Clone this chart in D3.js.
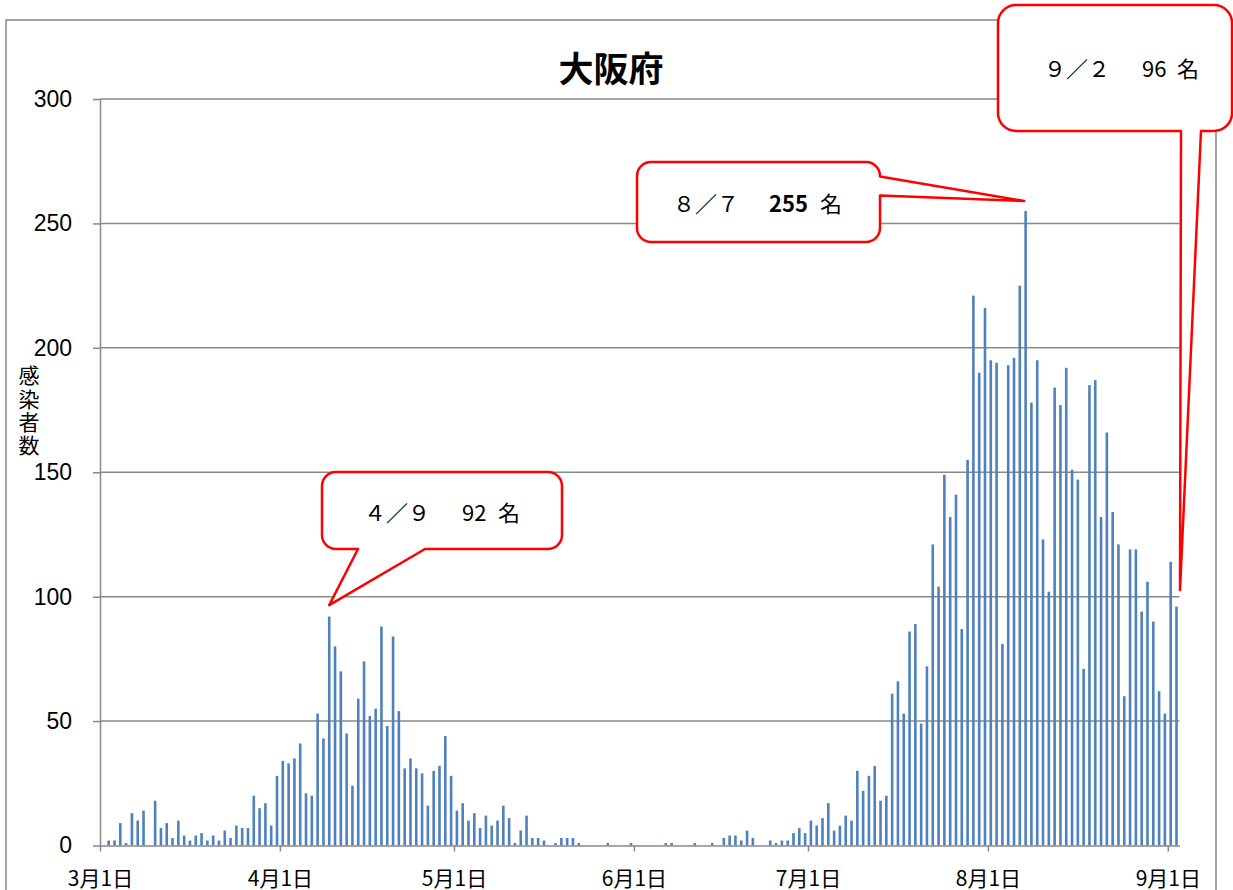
<!DOCTYPE html>
<html>
<head>
<meta charset="utf-8">
<title>大阪府</title>
<script src="https://cdn.jsdelivr.net/npm/d3@7/dist/d3.min.js"></script>
<style>
    body { margin: 0; background: #fff; }
    svg { display: block; }
</style>
</head>
<body>
<div id="chart"></div>
<script>
/*jslint browser: true*/

// daily new cases, Osaka, from 2020-03-01
var startDate = '2020-03-01';
var marCases = [0, 2, 2, 9, 1, 13, 10, 14, 0, 18, 7, 9, 3, 10, 4, 2, 4, 5, 2, 4, 2, 6, 3, 8, 7, 7, 20, 15, 17, 8, 28];
var aprCases = [34, 33, 35, 41, 21, 20, 53, 43, 92, 80, 70, 45, 24, 59, 74, 52, 55, 88, 48, 84, 54, 31, 35, 31, 29, 16, 30, 32, 44, 28];
var mayCases = [14, 17, 10, 13, 7, 12, 8, 10, 16, 11, 1, 6, 12, 3, 3, 2, 0, 1, 3, 3, 3, 1, 0, 0, 0, 0, 1, 0, 0, 0, 1];
var junCases = [0, 0, 0, 0, 0, 1, 1, 0, 0, 0, 1, 0, 0, 1, 0, 3, 4, 4, 2, 6, 3, 0, 0, 2, 1, 2, 2, 5, 7, 5];
var julCases = [10, 8, 11, 17, 6, 8, 12, 10, 30, 22, 28, 32, 18, 20, 61, 66, 53, 86, 89, 49, 72, 121, 104, 149, 132, 141, 87, 155, 221, 190, 216];
var augCases = [195, 194, 81, 193, 196, 225, 255, 178, 195, 123, 102, 184, 177, 192, 151, 147, 71, 185, 187, 132, 166, 134, 121, 60, 119, 119, 94, 106, 90, 62, 53];
var sepCases = [114, 96];

var monthTicks = ['2020-03-01', '2020-04-01', '2020-05-01', '2020-06-01', '2020-07-01', '2020-08-01', '2020-09-01'];
var yTicks = [0, 50, 100, 150, 200, 250, 300];
var titleText = '大阪府';
var yTitle = '感染者数';

// callout labels
var calloutDates = ['2020-04-09', '2020-08-07', '2020-09-02'];
var calloutDays = ['４／９', '８／７', '９／２'];
var calloutCounts = ['92', '255', '96'];

(function (d3) {
    'use strict';

    var parse = d3.utcParse('%Y-%m-%d'),
        start = parse(startDate),
        values = [].concat(marCases, aprCases, mayCases, junCases, julCases, augCases, sepCases),
        data = values.map(function (v, i) {
            return {date: d3.utcDay.offset(start, i), value: v};
        }),
        end = d3.utcDay.offset(start, values.length),
        width = 1233,
        height = 890,
        left = 100,
        right = 1179.4,
        top = 99,
        bottom = 845.5,
        axisColor = '#898989',
        barW = 2.6;

    var svg = d3.select('#chart').append('svg')
        .attr('width', width)
        .attr('height', height);

    var x = d3.scaleUtc().domain([start, end]).range([left, right]),
        y = d3.scaleLinear().domain([0, 300]).range([bottom, top]);

    function dayCenter(d) {
        return (x(d) + x(d3.utcDay.offset(d, 1))) / 2;
    }

    // outer chart border
    svg.append('rect')
        .attr('x', 6).attr('y', 20)
        .attr('width', 1210).attr('height', 900)
        .attr('fill', 'none')
        .attr('stroke', '#868686')
        .attr('stroke-width', 1.5);

    svg.append('text')
        .attr('x', 611).attr('y', 66)
        .attr('text-anchor', 'middle')
        .attr('dominant-baseline', 'central')
        .style('font-family', '"Noto Sans CJK JP", sans-serif')
        .style('font-weight', 'bold')
        .style('font-size', '35px')
        .text(titleText);

    // gridlines
    svg.append('g').selectAll('line')
        .data(yTicks.filter(function (t) { return t > 0; }))
        .enter().append('line')
        .attr('x1', left).attr('x2', right)
        .attr('y1', function (d) { return y(d); })
        .attr('y2', function (d) { return y(d); })
        .attr('stroke', axisColor)
        .attr('stroke-width', 1.5);

    // bars
    svg.append('g').selectAll('rect')
        .data(data.filter(function (d) { return d.value > 0; }))
        .enter().append('rect')
        .attr('x', function (d) { return dayCenter(d.date) - barW / 2; })
        .attr('y', function (d) { return y(d.value); })
        .attr('width', barW)
        .attr('height', function (d) { return bottom - y(d.value); })
        .attr('fill', '#4f81bd');

    var yAxis = svg.append('g')
        .attr('transform', 'translate(' + left + ',0)')
        .call(d3.axisLeft(y).tickValues(yTicks).tickSize(7).tickSizeOuter(0).tickPadding(21));

    var xAxis = svg.append('g')
        .attr('transform', 'translate(0,' + bottom + ')')
        .call(d3.axisBottom(x)
            .tickValues(monthTicks.map(parse))
            .tickFormat(d3.utcFormat('%-m月%-d日'))
            .tickSize(6)
            .tickSizeOuter(0));

    [yAxis, xAxis].forEach(function (ax) {
        ax.select('.domain').attr('stroke', axisColor).attr('stroke-width', 1.5);
        ax.selectAll('.tick line').attr('stroke', axisColor).attr('stroke-width', 1.5);
    });

    yAxis.selectAll('.tick text')
        .attr('fill', '#000')
        .style('font-family', '"Liberation Sans", Arial, sans-serif')
        .style('font-size', '23px');

    xAxis.selectAll('.tick text')
        .attr('fill', '#000')
        .attr('y', 31)
        .attr('dy', null)
        .attr('dominant-baseline', 'central')
        .style('font-family', '"Noto Sans CJK JP", sans-serif')
        .style('font-size', '21px');

    // vertical y title
    svg.append('text')
        .attr('x', 29)
        .attr('y', 365)
        .style('writing-mode', 'vertical-rl')
        .style('text-orientation', 'upright')
        .style('letter-spacing', '2.3px')
        .style('font-family', '"Noto Sans CJK JP", sans-serif')
        .style('font-size', '21px')
        .text(yTitle);

    // callouts
    function calloutPath(b, p) {
        var r = b.r, d = [];
        d.push('M', b.x0 + r, b.y0, 'H', b.x1 - r, 'A', r, r, 0, 0, 1, b.x1, b.y0 + r);
        if (p.side === 'right') {
            d.push('V', p.a, 'L', p.tx, p.ty, 'L', b.x1, p.b);
        }
        d.push('V', b.y1 - r, 'A', r, r, 0, 0, 1, b.x1 - r, b.y1);
        if (p.side === 'bottom') {
            d.push('H', p.b, 'L', p.tx, p.ty, 'L', p.a, b.y1);
        }
        d.push('H', b.x0 + r, 'A', r, r, 0, 0, 1, b.x0, b.y1 - r,
            'V', b.y0 + r, 'A', r, r, 0, 0, 1, b.x0 + r, b.y0, 'Z');
        return d.join(' ');
    }

    var boxes = [
        {x0: 322, y0: 472, x1: 562, y1: 549, r: 14, side: 'bottom', a: 358, b: 425, dx: 0, dy: -11.5,
            cy: 511, xs: [364, 462, 498], bold: false},
        {x0: 637, y0: 162, x1: 880, y1: 242, r: 14, side: 'right', a: 176.5, b: 195.5, dx: -1.5, dy: -10,
            cy: 202, xs: [673, 769, 820], bold: true},
        {x0: 998, y0: 5, x1: 1232, y1: 131, r: 18, side: 'bottom', a: 1181, b: 1201, dx: 3.5, dy: -16.5,
            cy: 67, xs: [1044, 1142, 1177], bold: false}
    ];

    boxes.forEach(function (b, i) {
        var dt = parse(calloutDates[i]),
            rec = data.filter(function (d) { return +d.date === +dt; })[0],
            p = {side: b.side, a: b.a, b: b.b, tx: dayCenter(dt) + b.dx, ty: y(rec.value) + b.dy};

        svg.append('path')
            .attr('d', calloutPath(b, p))
            .attr('fill', '#fff')
            .attr('stroke', '#ff0000')
            .attr('stroke-width', 2.5)
            .attr('stroke-linejoin', 'round');

        var t = svg.append('text')
            .attr('dominant-baseline', 'central')
            .style('font-family', '"Noto Sans CJK JP", sans-serif')
            .style('font-size', '22px');
        t.append('tspan').attr('x', b.xs[0]).attr('y', b.cy).text(calloutDays[i]);
        t.append('tspan').attr('x', b.xs[1]).attr('y', b.cy)
            .style('font-weight', b.bold ? 'bold' : 'normal')
            .text(calloutCounts[i]);
        t.append('tspan').attr('x', b.xs[2]).attr('y', b.cy).text('名');
    });

}(window.d3));
</script>
</body>
</html>
